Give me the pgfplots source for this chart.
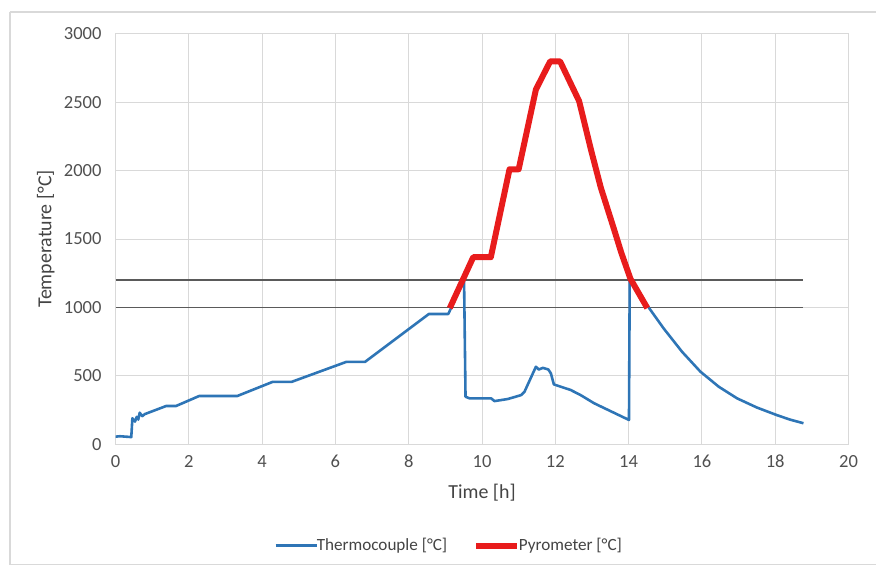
\documentclass[border=0pt]{standalone}
\usepackage{fontspec}
\setmainfont{Carlito}
\usepackage{pgfplots}
\pgfplotsset{compat=1.18}
\definecolor{gridgray}{RGB}{217,217,217}
\definecolor{txtgray}{RGB}{80,80,80}
\definecolor{tcblue}{RGB}{46,117,182}
\definecolor{pyred}{RGB}{232,28,28}
\definecolor{limgray}{RGB}{90,90,90}

\begin{document}
\begin{tikzpicture}
% chart frame (1px = 0.5pt)
\draw[gridgray, line width=0.6pt] (5pt,278.5pt) -- (440pt,278.5pt);
\draw[gridgray, line width=0.6pt] (5pt,278.5pt) -- (5pt,1pt) -- (440pt,1pt);
\begin{axis}[
    at={(58pt,61.5pt)}, anchor=origin,
    scale only axis,
    width=368pt, height=206pt,
    xmin=0, xmax=20, ymin=0, ymax=3000,
    xtick={0,2,...,20}, ytick={0,500,...,3000},
    grid=major,
    grid style={gridgray, line width=0.5pt},
    axis line style={gridgray, line width=0.5pt},
    major tick length=0pt,
    tick label style={font=\fontsize{9.3}{11}\selectfont, text=txtgray},
    /pgf/number format/assume math mode=true,
    /pgf/number format/1000 sep={},
    xticklabel style={yshift=-2pt},
    yticklabel style={xshift=-3.5pt},
    xlabel={Time [h]}, ylabel={Temperature [°C]},
    label style={font=\fontsize{10}{12}\selectfont, text=txtgray!85!black},
    xlabel style={at={(axis description cs:0.5,-0.118)}, anchor=center},
    ylabel style={at={(axis description cs:-0.095,0.5)}, anchor=center},
    legend style={at={(axis description cs:0.4565,-0.2476)}, anchor=center,
                  draw=none, legend columns=2,
                  font=\fontsize{8.6}{10}\selectfont, text=txtgray!85!black,
                  /tikz/every even column/.append style={column sep=11pt},
                  /tikz/every odd column/.append style={inner xsep=0pt}},
    legend cell align=left,
]
% limit lines
\addplot[limgray, line width=0.7pt, forget plot] coordinates {(0,1000) (18.77,1000)};
\addplot[limgray, line width=0.7pt, forget plot] coordinates {(0,1200) (18.77,1200)};
% thermocouple
\addplot[tcblue, line width=1.3pt, line join=round,
  legend image code/.code={\draw[tcblue, line width=1.3pt] (0pt,0pt) -- (20.5pt,0pt);}]
  coordinates {
  (0,55) (0.12,58) (0.43,52) (0.46,190) (0.53,165) (0.58,200) (0.62,180)
  (0.66,230) (0.73,205) (0.80,220) (1.38,279) (1.65,279) (2.28,352)
  (3.32,352) (4.29,456) (4.81,456) (6.30,602) (6.81,602) (8.55,952)
  (9.08,952) (9.51,1200) (9.55,347) (9.66,335) (10.25,335) (10.34,315)
  (10.70,330) (11.07,359) (11.16,384) (11.47,566) (11.55,546) (11.66,558)
  (11.81,546) (11.88,517) (11.96,437) (12.42,396) (12.69,359) (13.06,299)
  (14.01,177) (14.03,1200) (14.30,1095) (14.56,995) (14.96,845) (15.46,675)
  (15.96,530) (16.46,420) (16.96,335) (17.50,268) (18.04,213) (18.40,180)
  (18.77,153)
};
\addlegendentry{\hspace{-2.5pt}Thermocouple [°C]}
% pyrometer
\addplot[pyred, line width=3pt, line join=round,
  legend image code/.code={\draw[pyred, line width=3pt] (0pt,0pt) -- (20.5pt,0pt);}]
  coordinates {
  (9.12,995) (9.76,1367) (10.24,1367) (10.75,2010) (11.00,2010)
  (11.47,2593) (11.86,2799) (12.13,2799) (12.65,2508) (12.97,2156)
  (13.24,1877) (13.60,1573) (13.80,1400) (14.05,1209) (14.51,995)
};
\addlegendentry{\hspace{-2.5pt}Pyrometer [°C]}
\end{axis}
\path (0pt,0pt) rectangle (438.5pt,284.5pt);
\end{tikzpicture}
\end{document}
